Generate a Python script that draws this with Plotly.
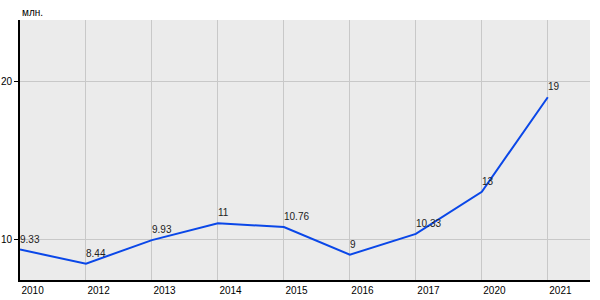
import plotly.graph_objects as go

years = ["2010", "2012", "2013", "2014", "2015", "2016", "2017", "2020", "2021"]
values = [9.33, 8.44, 9.93, 11, 10.76, 9, 10.33, 13, 19]
labels = ["9.33", "8.44", "9.93", "11", "10.76", "9", "10.33", "13", "19"]
y_ticks = [10, 20]
unit = "млн."

fig = go.Figure()
fig.add_trace(go.Scatter(
    x=years, y=values, mode="lines",
    line=dict(color="#0a47e8", width=2),
    cliponaxis=False, hoverinfo="skip",
))

annotations = [dict(
    x=i, y=yv, text=t, xref="x", yref="y",
    xanchor="left", yanchor="bottom", xshift=-2, yshift=3,
    showarrow=False, font=dict(family="Arial, Liberation Sans", size=10, color="#222222"),
) for i, (yv, t) in enumerate(zip(values, labels))]
annotations.append(dict(
    text=unit, xref="paper", yref="paper", x=0, y=1,
    xanchor="left", yanchor="bottom", yshift=0, showarrow=False,
    font=dict(size=10, color="#000000"),
))

fig.update_layout(
    width=600, height=300,
    margin=dict(l=20, r=10, t=20, b=20),
    paper_bgcolor="white", plot_bgcolor="#ebebeb",
    showlegend=False,
    font=dict(family="Arial, Liberation Sans", size=10, color="#000000"),
    xaxis=dict(
        type="category", range=[0, 8.64], automargin=False,
        showgrid=True, gridcolor="#c8c8c8", gridwidth=1,
        showline=True, linecolor="#000000", linewidth=2,
        ticks="outside", ticklen=3, tickcolor="rgba(0,0,0,0)",
        ticklabelposition="outside right",
        tickfont=dict(size=10, color="#000000"),
        zeroline=False,
    ),
    yaxis=dict(
        range=[7.4, 23.9], tickvals=y_ticks, automargin=False,
        showgrid=True, gridcolor="#c8c8c8", gridwidth=1,
        showline=True, linecolor="#000000", linewidth=2,
        ticks="outside", ticklen=4, tickcolor="#000000",
        tickfont=dict(size=10, color="#000000"),
        zeroline=False,
    ),
    annotations=annotations,
)

fig.write_html("out.html")
